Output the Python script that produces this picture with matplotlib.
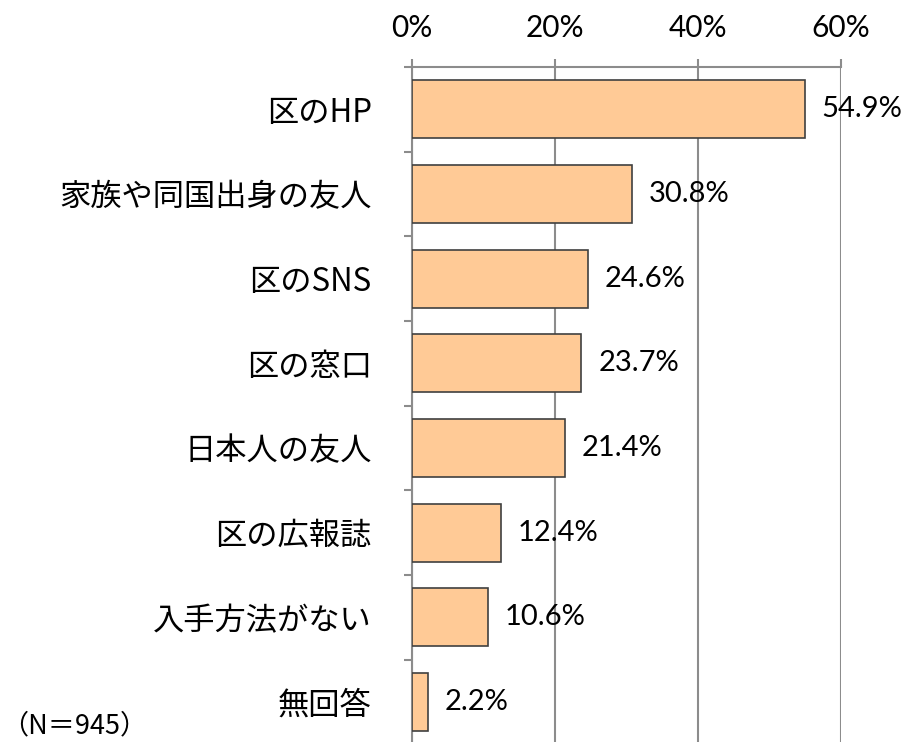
import matplotlib
matplotlib.use("Agg")
import matplotlib.pyplot as plt
from matplotlib.ticker import FixedLocator

plt.rcParams["font.family"] = ["Noto Sans CJK JP", "DejaVu Sans"]

categories = ["区のHP", "家族や同国出身の友人", "区のSNS", "区の窓口",
              "日本人の友人", "区の広報誌", "入手方法がない", "無回答"]
values = [54.9, 30.8, 24.6, 23.7, 21.4, 12.4, 10.6, 2.2]
xticks = [0, 20, 40, 60]
note = "（N＝945）"

GRID = "#8c8c8c"
BAR = "#FFCA96"
NUMFONT = ["Lato", "DejaVu Sans"]

fig = plt.figure(figsize=(9.03, 7.42), dpi=100)
ax = fig.add_axes([0.4563, -0.003, 0.475, 0.9127])

ypos = list(range(len(categories)))
ax.barh(ypos, values, height=0.685, color=BAR, edgecolor="#404040", linewidth=1.2, zorder=3)
ax.set_ylim(len(categories) - 0.5, -0.5)
ax.set_xlim(0, 60)

ax.xaxis.tick_top()
ax.set_xticks(xticks)
ax.set_xticklabels([f"{t}%" for t in xticks], family=NUMFONT, fontsize=21.5)
ax.tick_params(axis="x", length=6, width=1.5, color=GRID, pad=12)
ax.grid(axis="x", color=GRID, linewidth=1.5, zorder=0)

ax.set_yticks(ypos)
ax.set_yticklabels(categories, fontsize=22.5)
ax.yaxis.set_minor_locator(FixedLocator([i - 0.5 for i in range(len(categories) + 1)]))
ax.tick_params(axis="y", which="major", length=0, pad=29)
ax.tick_params(axis="y", which="minor", length=6, width=1.5, color=GRID)

for s in ["right", "bottom"]:
    ax.spines[s].set_visible(False)
for s in ["top", "left"]:
    ax.spines[s].set_color(GRID)
    ax.spines[s].set_linewidth(1.5)

for y, v in zip(ypos, values):
    ax.annotate(f"{v}%", (v, y), xytext=(12, 0), textcoords="offset points",
                va="center", ha="left", fontsize=21, family=NUMFONT)

fig.text(0.001, 0.022, note, fontsize=19.5, ha="left", va="center")

fig.savefig("out.png", dpi=100)
